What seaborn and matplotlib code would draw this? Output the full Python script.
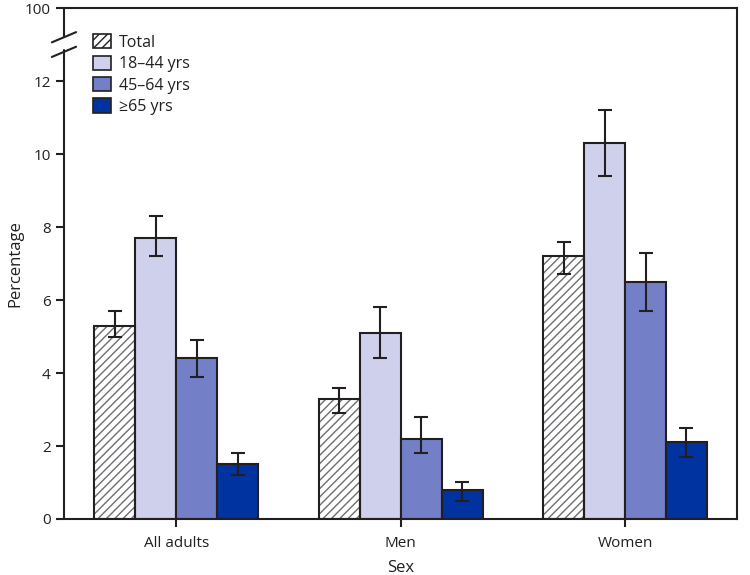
import numpy as np
import pandas as pd
from matplotlib import pyplot as plt
from matplotlib.patches import Patch, Rectangle
import seaborn as sns

sexes = ['All adults', 'Men', 'Women']
age_groups = ['Total', '18\u201344 yrs', '45\u201364 yrs', '\u226565 yrs']

# percentage, lower CI, upper CI per age group (order: All adults, Men, Women)
pct = {
    'Total': [5.3, 3.3, 7.2],
    '18\u201344 yrs': [7.7, 5.1, 10.3],
    '45\u201364 yrs': [4.4, 2.2, 6.5],
    '\u226565 yrs': [1.5, 0.8, 2.1],
}
ci_low = {
    'Total': [5.0, 2.9, 6.7],
    '18\u201344 yrs': [7.2, 4.4, 9.4],
    '45\u201364 yrs': [3.9, 1.8, 5.7],
    '\u226565 yrs': [1.2, 0.5, 1.7],
}
ci_high = {
    'Total': [5.7, 3.6, 7.6],
    '18\u201344 yrs': [8.3, 5.8, 11.2],
    '45\u201364 yrs': [4.9, 2.8, 7.3],
    '\u226565 yrs': [1.8, 1.0, 2.5],
}

colors = ['#ffffff', '#cfd0ec', '#7380c8', '#0033a0']
edge = '#231f20'

sns.set_style('white')
plt.rcParams['font.family'] = ['Open Sans', 'DejaVu Sans']
plt.rcParams['hatch.linewidth'] = 1.0

rows = []
for g in age_groups:
    for i, s in enumerate(sexes):
        rows.append({'Sex': s, 'Group': g, 'Percentage': pct[g][i]})
df = pd.DataFrame(rows)

fig = plt.figure(figsize=(7.5, 5.75), dpi=100)
ax = fig.add_axes([0.0853, 0.0974, 0.983 - 0.0853, 0.986 - 0.0974])

sns.barplot(
    data=df, x='Sex', y='Percentage', hue='Group', order=sexes,
    hue_order=age_groups, palette=colors, width=0.73, errorbar=None,
    edgecolor=edge, linewidth=1.5, saturation=1, legend=False, ax=ax,
)

for g, cont in zip(age_groups, ax.containers):
    xs = [p.get_x() + p.get_width() / 2 for p in cont]
    if g == 'Total':
        for p in cont:
            p.set_hatch('////')
            p.set_edgecolor('#6d6e71')
            p.set_linewidth(0)
            ax.add_patch(Rectangle((p.get_x(), p.get_y()), p.get_width(), p.get_height(),
                                   fill=False, edgecolor=edge, linewidth=1.5, zorder=p.get_zorder() + 0.1))
    y = np.array(pct[g])
    yerr = np.array([y - np.array(ci_low[g]), np.array(ci_high[g]) - y])
    ax.errorbar(xs, y, yerr=yerr, fmt='none', ecolor=edge, elinewidth=1.5,
                capsize=5, capthick=1.5, zorder=5)

ax.set_xlim(-0.5, 2.5)
ax.set_ylim(0, 14)
ax.set_yticks([0, 2, 4, 6, 8, 10, 12, 14])
ax.set_yticklabels(['0', '2', '4', '6', '8', '10', '12', '100'])
ax.tick_params(axis='both', direction='out', length=6, width=1.5, color=edge,
               labelsize=11, labelcolor=edge, left=True, bottom=True)
ax.tick_params(axis='x', pad=6)
ax.set_xlabel('Sex', fontsize=12, color=edge, labelpad=7)
ax.set_ylabel('Percentage', fontsize=12, color=edge, labelpad=1)

for side in ['top', 'right', 'bottom']:
    ax.spines[side].set_visible(True)
    ax.spines[side].set_color(edge)
    ax.spines[side].set_linewidth(1.5)
ax.spines['left'].set_visible(False)

# left axis with a break
trans = ax.get_yaxis_transform()
ax.plot([0, 0], [0, 12.85], transform=trans, color=edge, lw=1.5, clip_on=False, zorder=6)
ax.plot([0, 0], [13.2, 14], transform=trans, color=edge, lw=1.5, clip_on=False, zorder=6)
for yb in [12.8, 13.2]:
    ax.plot([-0.018, 0.018], [yb - 0.14, yb + 0.14], transform=trans, color=edge,
            lw=1.5, clip_on=False, zorder=6)

handles = []
for g, c in zip(age_groups, colors):
    if g == 'Total':
        handles.append(Patch(facecolor='white', edgecolor=edge, hatch='////', linewidth=1.2))
    else:
        handles.append(Patch(facecolor=c, edgecolor=edge, linewidth=1.2))
ax.legend(handles, age_groups, loc='upper left', bbox_to_anchor=(0.022, 0.977),
          frameon=False, fontsize=11.5, handlelength=1.1, handleheight=1.0,
          handletextpad=0.5, labelspacing=0.3, labelcolor=edge)

fig.savefig('out.png', dpi=100)
plt.close('all')
